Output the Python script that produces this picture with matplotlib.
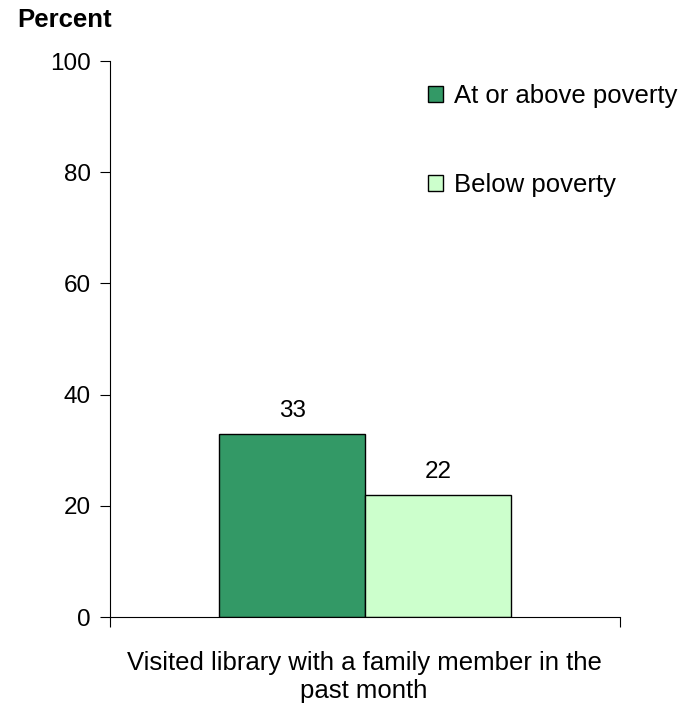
import matplotlib.pyplot as plt
import numpy as np

plt.rcParams['font.family'] = ['Liberation Sans', 'DejaVu Sans']

category = 'Visited library with a family member in the\npast month'
series = ['At or above poverty', 'Below poverty']
values = [33, 22]
colors = ['#339966', '#CCFFCC']

fig = plt.figure(figsize=(6.91, 7.05), dpi=100)
ax = fig.add_axes([110 / 691, 88 / 705, 510 / 691, 556 / 705])

width = 0.286
offsets = np.array([-0.5, 0.5]) * width
for off, v, c, name in zip(offsets, values, colors, series):
    ax.bar(off, v, width, color=c, edgecolor='black', linewidth=1, label=name)
    ax.text(off, v + 2.1, str(v), ha='center', va='bottom', fontsize=17.5)

ax.set_xlim(-0.5, 0.5)
ax.set_ylim(0, 100)
ax.set_yticks(range(0, 101, 20))
ax.tick_params(axis='y', labelsize=17.5, length=7, direction='out', pad=7)
ax.set_xticks([-0.5, 0.5])
ax.set_xticklabels(['', ''])
ax.tick_params(axis='x', length=7, direction='out')
for side in ['top', 'right']:
    ax.spines[side].set_visible(False)

fig.text(364 / 691, 1 - 677 / 705, category, ha='center', va='center',
         fontsize=18.5, linespacing=1.25)
fig.text(17 / 691, 1 - 20 / 705, 'Percent', ha='left', va='center',
         fontsize=18.5, fontweight='bold')

ax.legend(loc='upper left', bbox_to_anchor=(415 / 691, 1 - 71 / 705),
          bbox_transform=fig.transFigure, frameon=False, fontsize=18.5,
          borderpad=0, handlelength=0.58, handleheight=0.58,
          handletextpad=0.45, labelspacing=2.52)

fig.savefig('out.png', dpi=100)
